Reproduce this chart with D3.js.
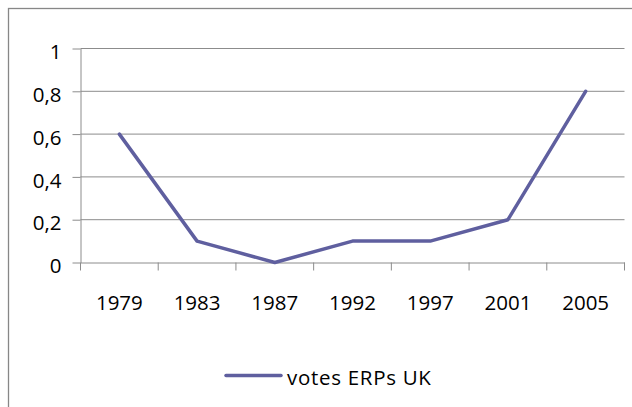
<!DOCTYPE html>
<html><head><meta charset="utf-8">
<script src="https://cdn.jsdelivr.net/npm/d3@7"></script>
<style>
html,body{margin:0;padding:0;background:#fff;}
svg{display:block;}
text{font-family:"Open Sans",sans-serif;fill:#000;}
</style></head>
<body>
<script>
const categories = ["1979","1983","1987","1992","1997","2001","2005"];
const values = [0.6, 0.1, 0, 0.1, 0.1, 0.2, 0.8];
const yTicks = [0, 0.2, 0.4, 0.6, 0.8, 1];
const seriesName = "votes ERPs UK";

const W = 632, H = 407;
const svg = d3.select("body").append("svg").attr("width", W).attr("height", H);

// chart border
svg.append("rect").attr("x", 8.5).attr("y", 8.5).attr("width", 640).attr("height", 420)
  .attr("fill", "none").attr("stroke", "#878787").attr("stroke-width", 1.3);

const pLeft = 80.5, pRight = 624.5, pTop = 48.5, pBottom = 262.5;
const x = d3.scaleBand().domain(categories).range([pLeft, pRight]);
const y = d3.scaleLinear().domain([0, 1]).range([pBottom, pTop]);

// gridlines
svg.append("g").selectAll("line").data(yTicks.filter(d => d > 0)).join("line")
  .attr("x1", pLeft).attr("x2", pRight).attr("y1", d => y(d)).attr("y2", d => y(d))
  .attr("stroke", "#8c8c8c").attr("stroke-width", 1);

const fmt = d => String(+d.toFixed(1)).replace(".", ",");
const FS = "20.5px";

// y axis
const ya = svg.append("g").attr("transform", `translate(${pLeft},0)`)
  .call(d3.axisLeft(y).tickValues(yTicks).tickFormat(fmt).tickSize(8).tickSizeOuter(0));
ya.select(".domain").attr("stroke", "#8c8c8c");
ya.selectAll(".tick line").attr("stroke", "#8c8c8c");
ya.selectAll(".tick text").attr("x", -19).attr("dy", "0.5em")
  .style("font-size", FS).style("font-family", "'Open Sans',sans-serif").attr("fill", "#000");

// x axis
const xa = svg.append("g").attr("transform", `translate(0,${pBottom})`)
  .call(d3.axisBottom(x).tickSize(0).tickSizeOuter(0));
xa.select(".domain").attr("stroke", "#8c8c8c");
xa.selectAll(".tick line").remove();
xa.selectAll(".tick text").attr("y", 47).attr("dy", 0)
  .style("font-size", FS).style("font-family", "'Open Sans',sans-serif").attr("fill", "#000");
// category boundary ticks
const bounds = categories.map(c => x(c)).concat([x.range()[1]]);
svg.append("g").selectAll("line").data(bounds).join("line")
  .attr("x1", d => d).attr("x2", d => d).attr("y1", pBottom).attr("y2", pBottom + 8)
  .attr("stroke", "#8c8c8c");

// line
const line = d3.line()
  .x((d, i) => x(categories[i]) + x.bandwidth() / 2)
  .y(d => y(d));
svg.append("path").datum(values).attr("d", line)
  .attr("fill", "none").attr("stroke", "#5f5f9f").attr("stroke-width", 3.5)
  .attr("stroke-linejoin", "round").attr("stroke-linecap", "round");

// legend
const lg = svg.append("g");
lg.append("line").attr("x1", 226).attr("x2", 281).attr("y1", 375.5).attr("y2", 375.5)
  .attr("stroke", "#5f5f9f").attr("stroke-width", 3.5).attr("stroke-linecap", "round");
lg.append("text").attr("x", 287).attr("y", 384.5).text(seriesName)
  .style("font-size", FS).style("letter-spacing", "0.7px");
</script>
</body></html>
